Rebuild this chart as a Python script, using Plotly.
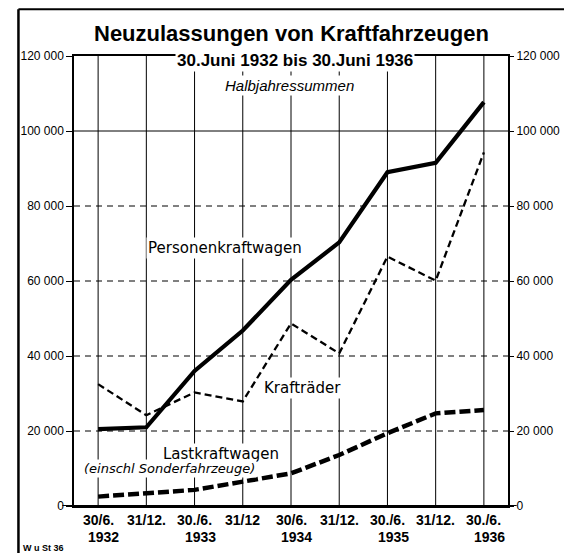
import plotly.graph_objects as go

dates = ["30/6.", "31/12.", "30./6.", "31/12", "30/6.", "31/12.", "30./6.", "31/12.", "30./6."]
years = ["1932", "", "1933", "", "1934", "", "1935", "", "1936"]
pkw = [20500, 21000, 36000, 46800, 60300, 70300, 89000, 91500, 107700]
krad = [32500, 24200, 30300, 27900, 48700, 40700, 66500, 60100, 94300]
lkw = [2500, 3300, 4300, 6500, 8700, 13600, 19400, 24700, 25600]
yticks = [0, 20000, 40000, 60000, 80000, 100000, 120000]
yticklabels = ["0", "20 000", "40 000", "60 000", "80 000", "100 000", "120 000"]

xs = list(range(len(dates)))
FONT = "Liberation Sans"
FONT2 = "DejaVu Sans"

fig = go.Figure()
fig.add_trace(go.Scatter(x=xs, y=krad, mode="lines", line=dict(color="black", width=2.3, dash="7px,4px")))
fig.add_trace(go.Scatter(x=xs, y=lkw, mode="lines", line=dict(color="black", width=4.5, dash="11px,4px")))
fig.add_trace(go.Scatter(x=xs, y=pkw, mode="lines", line=dict(color="black", width=4.2)))
fig.add_trace(go.Scatter(x=[None], y=[None], yaxis="y2", showlegend=False))

shapes = []
for x in xs:
    shapes.append(dict(type="line", xref="x", yref="y", x0=x, x1=x, y0=0, y1=120000,
                       line=dict(color="black", width=1), layer="below"))
for v in yticks[1:-1]:
    shapes.append(dict(type="line", xref="paper", yref="y", x0=0, x1=1, y0=v, y1=v,
                       line=dict(color="black", width=1, dash="solid" if v == 100000 else "6px,5px"),
                       layer="below"))
# zero line extended
shapes.append(dict(type="line", xref="paper", yref="y", x0=-0.027, x1=1.02, y0=0, y1=0,
                   line=dict(color="black", width=2)))
# outer border
shapes.append(dict(type="line", xref="paper", yref="paper", x0=-0.128, x1=1.2, y0=1.104, y1=1.104,
                   line=dict(color="black", width=2)))
shapes.append(dict(type="line", xref="paper", yref="paper", x0=-0.128, x1=-0.128, y0=1.104, y1=-0.2,
                   line=dict(color="black", width=2.5)))

ann = []
ann.append(dict(text="<b>Neuzulassungen von Kraftfahrzeugen</b>", xref="paper", yref="paper",
                x=0.5, y=1.051, yanchor="middle", showarrow=False, font=dict(size=22, family=FONT)))
ann.append(dict(text="<b>30.Juni 1932 bis 30.Juni 1936</b>", xref="paper", yref="paper",
                x=0.509, y=0.991, yanchor="middle", showarrow=False, bgcolor="white",
                font=dict(size=17, family=FONT)))
ann.append(dict(text="<i>Halbjahressummen</i>", xref="paper", yref="paper",
                x=0.496, y=0.934, yanchor="middle", showarrow=False, bgcolor="white",
                font=dict(size=15, family=FONT)))
ann.append(dict(text="Personenkraftwagen", xref="x", yref="y", x=0.99, y=68800, xanchor="left",
                showarrow=False, bgcolor="white", font=dict(size=15, family=FONT2)))
ann.append(dict(text="Krafträder", xref="x", yref="y", x=3.39, y=31500, xanchor="left",
                showarrow=False, bgcolor="white", font=dict(size=15, family=FONT2)))
ann.append(dict(text="Lastkraftwagen", xref="x", yref="y", x=1.31, y=13900, xanchor="left",
                showarrow=False, bgcolor="white", font=dict(size=15, family=FONT2)))
ann.append(dict(text="<i>(einschl Sonderfahrzeuge)</i>", xref="x", yref="y", x=-0.34, y=10000, xanchor="left",
                showarrow=False, bgcolor="white", font=dict(size=13, family=FONT2)))
ann.append(dict(text="<b>W u St 36</b>", xref="paper", yref="paper", x=-0.123, y=-0.093, xanchor="left",
                yanchor="middle", showarrow=False, font=dict(size=9, family=FONT)))
for x, d, yv in zip(xs, dates, years):
    ann.append(dict(text="<b>" + d + "</b>", xref="x", yref="paper", x=x, y=-0.031, yanchor="middle",
                    showarrow=False, font=dict(size=14, family=FONT)))
    if yv:
        ann.append(dict(text="<b>" + yv + "</b>", xref="x", yref="paper", x=x + 0.12, y=-0.069, yanchor="middle",
                        showarrow=False, font=dict(size=14, family=FONT)))

# page body has an 8px default margin; figure is sized so the visible layout matches the 572x553 window
fig.update_layout(
    width=564, height=545,
    margin=dict(l=59, r=52, t=48, b=47),
    paper_bgcolor="white", plot_bgcolor="white",
    font=dict(family=FONT, color="black"),
    showlegend=False,
    shapes=shapes, annotations=ann,
    xaxis=dict(range=[-0.5, 8.5], showgrid=False, zeroline=False, showticklabels=False,
               showline=True, mirror=True, linecolor="black", linewidth=1.5, fixedrange=True),
    yaxis=dict(range=[0, 120000], tickvals=yticks, ticktext=yticklabels, showgrid=False, zeroline=False,
               ticks="outside", ticklen=6, tickcolor="black", showline=True, linecolor="black", linewidth=1.5,
               tickfont=dict(size=12, family=FONT, color="black")),
    yaxis2=dict(range=[0, 120000], tickvals=yticks, ticktext=yticklabels, overlaying="y", side="right",
                showgrid=False, zeroline=False, ticks="outside", ticklen=4, tickcolor="black",
                showline=True, linecolor="black", linewidth=2,
                tickfont=dict(size=12, family=FONT, color="black")),
)
fig.write_html("out.html")
